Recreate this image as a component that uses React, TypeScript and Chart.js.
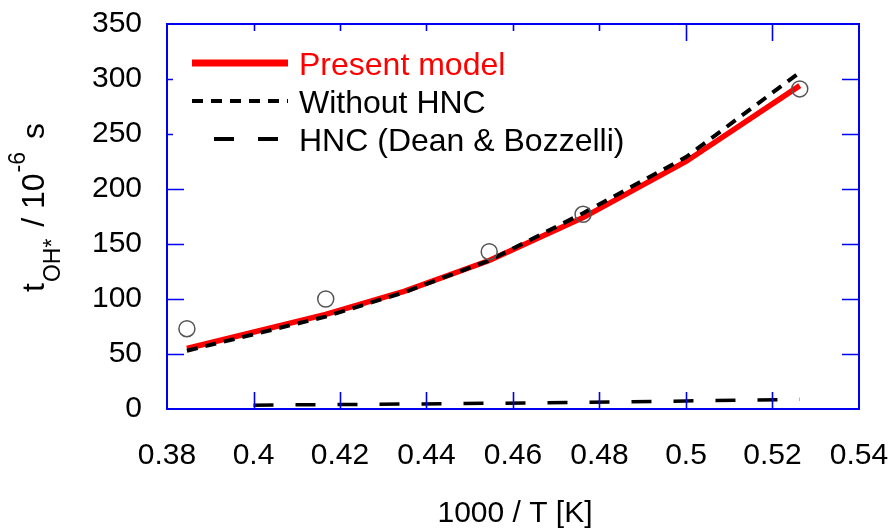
import React, { useEffect, useRef } from "react";
import { Chart, registerables } from "chart.js";

Chart.register(...registerables);

// 1000 / T [K]
const modelInvT = [0.3846, 0.4167, 0.4348, 0.4545, 0.4762, 0.5, 0.5263];
const presentModel = [55, 86, 107, 135, 174, 225, 294];
const withoutHNC = [53, 84, 106, 135, 178, 229, 306];
const hncInvT = [0.4, 0.4167, 0.4348, 0.4545, 0.4762, 0.5, 0.5263];
const hncDeanBozzelli = [3.5, 4, 4.5, 5.2, 6, 7.3, 8.8];
const expInvT = [0.3846, 0.4167, 0.4545, 0.4762, 0.5263];
const experiment = [73, 100, 143, 177, 291];

const xTickValues = [0.38, 0.4, 0.42, 0.44, 0.46, 0.48, 0.5, 0.52, 0.54];
const yTickValues = [0, 50, 100, 150, 200, 250, 300, 350];

const FONT = '"Liberation Sans", Arial, sans-serif';
const BLUE = "#0000f0";

const pts = (xs: number[], ys: number[]) => xs.map((x, i) => ({ x, y: ys[i] }));

const decorPlugin = {
  id: "decor",
  afterDraw(chart: any) {
    const ctx = chart.ctx as CanvasRenderingContext2D;
    const { left, right, top, bottom } = chart.chartArea;
    const xs = chart.scales.x;
    const ys = chart.scales.y;
    const tl = 17;
    ctx.save();
    // inner ticks
    ctx.strokeStyle = BLUE;
    ctx.lineWidth = 1.6;
    ctx.beginPath();
    yTickValues.slice(1, -1).forEach((v) => {
      const py = Math.round(ys.getPixelForValue(v)) + 0.5;
      ctx.moveTo(left, py);
      ctx.lineTo(left + tl, py);
      ctx.moveTo(right, py);
      ctx.lineTo(right - tl, py);
    });
    xTickValues.slice(1, -1).forEach((v) => {
      const px = Math.round(xs.getPixelForValue(v)) + 0.5;
      ctx.moveTo(px, bottom);
      ctx.lineTo(px, bottom - tl);
      ctx.moveTo(px, top);
      ctx.lineTo(px, top + tl);
    });
    ctx.stroke();

    // legend (opaque box)
    ctx.fillStyle = "#ffffff";
    ctx.fillRect(173, 31, 467, 135);
    const items = [
      { label: "Present model", color: "#ff0000", text: "#ff0000", width: 7, dash: [] as number[], x0: 192, y: 63 },
      { label: "Without HNC", color: "#000000", text: "#000000", width: 4, dash: [11, 8], x0: 192, y: 101 },
      { label: "HNC (Dean & Bozzelli)", color: "#000000", text: "#000000", width: 4, dash: [20, 24], x0: 214, y: 139 },
    ];
    items.forEach((it) => {
      ctx.beginPath();
      ctx.setLineDash(it.dash);
      ctx.strokeStyle = it.color;
      ctx.lineWidth = it.width;
      ctx.moveTo(it.x0, it.y);
      ctx.lineTo(288, it.y);
      ctx.stroke();
      ctx.setLineDash([]);
      ctx.fillStyle = it.text;
      ctx.font = `32px ${FONT}`;
      ctx.textBaseline = "alphabetic";
      ctx.textAlign = "left";
      ctx.fillText(it.label, 299, it.y + 12);
    });

    // frame
    ctx.strokeStyle = BLUE;
    ctx.lineWidth = 2;
    ctx.strokeRect(left, top, right - left, bottom - top);

    // x title
    ctx.fillStyle = "#000";
    ctx.font = `30px ${FONT}`;
    ctx.textAlign = "center";
    ctx.textBaseline = "alphabetic";
    ctx.fillText("1000 / T [K]", (left + right) / 2 + 2, 522);

    // y title with sub/superscripts
    const big = `32px ${FONT}`;
    const small = `23px ${FONT}`;
    const parts = [
      { t: "t", f: big, dy: 0, gap: 1 },
      { t: "OH*", f: small, dy: 16, gap: 3 },
      { t: " / 10", f: big, dy: 0, gap: 1 },
      { t: "-6", f: small, dy: -19, gap: 4 },
      { t: " s", f: big, dy: 0, gap: 0 },
    ];
    ctx.translate(44, 292);
    ctx.rotate(-Math.PI / 2);
    ctx.textAlign = "left";
    let x = 0;
    parts.forEach((p) => {
      ctx.font = p.f;
      ctx.fillText(p.t, x, p.dy);
      x += ctx.measureText(p.t).width + p.gap;
    });
    ctx.restore();
  },
};

export default function App() {
  const ref = useRef<HTMLCanvasElement | null>(null);
  useEffect(() => {
    document.body.style.margin = "0";
    const canvas = ref.current!;
    const chart = new Chart(canvas, {
      type: "scatter",
      data: {
        datasets: [
          {
            label: "Without HNC",
            data: pts(modelInvT, withoutHNC),
            showLine: true,
            borderColor: "#000000",
            borderWidth: 4,
            borderDash: [11, 8],
            pointRadius: 0,
            order: 1,
          },
          {
            label: "Present model",
            data: pts(modelInvT, presentModel),
            showLine: true,
            borderColor: "#ff0000",
            borderWidth: 5.5,
            pointRadius: 0,
            order: 2,
          },
          {
            label: "HNC (Dean & Bozzelli)",
            data: pts(hncInvT, hncDeanBozzelli),
            showLine: true,
            borderColor: "#000000",
            borderWidth: 3.5,
            borderDash: [20, 22],
            pointRadius: 0,
            order: 3,
          },
          {
            label: "Experiment",
            data: pts(expInvT, experiment),
            showLine: false,
            pointRadius: 8,
            pointBorderWidth: 1.5,
            pointBorderColor: "#555555",
            pointBackgroundColor: "rgba(0,0,0,0)",
            order: 0,
          },
        ],
      },
      options: {
        responsive: false,
        animation: false,
        layout: { padding: { left: 0, right: 36, top: 24, bottom: 0 } },
        plugins: { legend: { display: false }, tooltip: { enabled: false } },
        scales: {
          x: {
            type: "linear",
            min: 0.38,
            max: 0.54,
            afterFit: (s: any) => {
              s.height = 122;
              s.paddingLeft = 0;
              s.paddingRight = 0;
            },
            afterBuildTicks: (s: any) => {
              s.ticks = xTickValues.map((v) => ({ value: v }));
            },
            ticks: {
              padding: 29,
              color: "#000",
              font: { size: 30, family: FONT },
              maxRotation: 0,
              autoSkip: false,
              callback: (v: any) => String(Number(Number(v).toFixed(2))),
            },
            grid: { display: false, drawTicks: false },
            border: { display: false },
          },
          y: {
            type: "linear",
            min: 0,
            max: 350,
            afterFit: (s: any) => {
              s.width = 167;
              s.paddingTop = 0;
              s.paddingBottom = 0;
            },
            afterBuildTicks: (s: any) => {
              s.ticks = yTickValues.map((v) => ({ value: v }));
            },
            ticks: {
              padding: 25,
              color: "#000",
              font: { size: 30, family: FONT },
              callback: (v: any) => String(v),
            },
            grid: { display: false, drawTicks: false },
            border: { display: false },
          },
        },
      },
      plugins: [decorPlugin],
    });
    return () => chart.destroy();
  }, []);
  return <canvas ref={ref} width={895} height={531} style={{ display: "block" }} />;
}
